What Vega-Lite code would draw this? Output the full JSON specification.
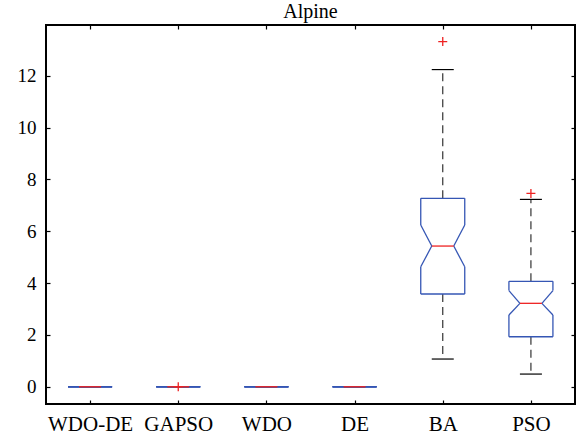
{
  "$schema": "https://vega.github.io/schema/vega-lite/v6.json",
  "width": 529,
  "height": 379,
  "autosize": "none",
  "padding": {"left": 46, "top": 25, "right": 5, "bottom": 35},
  "background": "white",
  "config": {
    "view": {"stroke": "black", "strokeWidth": 2},
    "font": "Liberation Serif, DejaVu Serif, serif",
    "axis": {"grid": false, "domain": false, "tickColor": "black", "tickWidth": 1.2, "labelColor": "black", "labelFont": "Liberation Serif, DejaVu Serif, serif", "titleFont": "Liberation Serif, DejaVu Serif, serif"}
  },
  "title": {"text": "Alpine", "fontSize": 20, "font": "Liberation Serif, DejaVu Serif, serif", "fontWeight": "normal", "color": "black", "offset": 2},
  "datasets": {
    "stats": [
      {"name": "WDO-DE", "pos": 1, "q1": 0, "q3": 0, "med": 0, "nlo": 0, "nhi": 0, "wlo": 0, "whi": 0},
      {"name": "GAPSO", "pos": 2, "q1": 0, "q3": 0, "med": 0, "nlo": 0, "nhi": 0, "wlo": 0, "whi": 0},
      {"name": "WDO", "pos": 3, "q1": 0, "q3": 0, "med": 0, "nlo": 0, "nhi": 0, "wlo": 0, "whi": 0},
      {"name": "DE", "pos": 4, "q1": 0, "q3": 0, "med": 0, "nlo": 0, "nhi": 0, "wlo": 0, "whi": 0},
      {"name": "BA", "pos": 5, "q1": 3.58, "q3": 7.27, "med": 5.43, "nlo": 4.63, "nhi": 6.24, "wlo": 1.07, "whi": 12.24},
      {"name": "PSO", "pos": 6, "q1": 1.93, "q3": 4.07, "med": 3.22, "nlo": 2.77, "nhi": 3.71, "wlo": 0.49, "whi": 7.23}
    ],
    "outliers": [
      {"name": "GAPSO", "pos": 2, "value": 0.0},
      {"name": "BA", "pos": 5, "value": 13.32},
      {"name": "PSO", "pos": 6, "value": 7.46}
    ]
  },
  "data": {"name": "stats"},
  "resolve": {"axis": {"x": "independent", "y": "independent"}},
  "layer": [
    {
      "mark": {"type": "rule", "color": "#333333", "strokeWidth": 1.2, "strokeDash": [8, 5]},
      "encoding": {
        "x": {"field": "pos", "type": "quantitative", "scale": {"domain": [0.5, 6.5], "nice": false, "zero": false},
              "axis": {"orient": "bottom", "title": null, "values": [1, 2, 3, 4, 5, 6], "tickSize": -4, "labelPadding": 13, "labelFontSize": 21, "labelExpr": "['', 'WDO-DE', 'GAPSO', 'WDO', 'DE', 'BA', 'PSO'][datum.value]"}},
        "y": {"field": "q3", "type": "quantitative", "scale": {"domain": [-0.665, 13.96], "nice": false, "zero": false},
              "axis": {"orient": "left", "title": null, "values": [0, 2, 4, 6, 8, 10, 12], "tickSize": -4, "labelPadding": 14, "labelFontSize": 19}},
        "y2": {"field": "whi"}
      }
    },
    {
      "mark": {"type": "rule", "color": "#333333", "strokeWidth": 1.2, "strokeDash": [8, 5]},
      "encoding": {
        "x": {"field": "pos", "type": "quantitative", "axis": {"orient": "top", "title": null, "values": [1, 2, 3, 4, 5, 6], "tickSize": -4, "labels": false}},
        "y": {"field": "q1", "type": "quantitative", "axis": {"orient": "right", "title": null, "values": [0, 2, 4, 6, 8, 10, 12], "tickSize": -4, "labels": false}},
        "y2": {"field": "wlo"}
      }
    },
    {
      "mark": {"type": "rule", "color": "black", "strokeWidth": 1.2, "xOffset": -11, "x2Offset": 11},
      "encoding": {"x": {"field": "pos", "type": "quantitative", "axis": null}, "x2": {"field": "pos"}, "y": {"field": "whi", "type": "quantitative", "axis": null}, "y2": {"field": "whi"}}
    },
    {
      "mark": {"type": "rule", "color": "black", "strokeWidth": 1.2, "xOffset": -11, "x2Offset": 11},
      "encoding": {"x": {"field": "pos", "type": "quantitative", "axis": null}, "x2": {"field": "pos"}, "y": {"field": "wlo", "type": "quantitative", "axis": null}, "y2": {"field": "wlo"}}
    },
    {
      "mark": {"type": "rule", "color": "#3556b4", "strokeWidth": 1.3, "xOffset": -22, "x2Offset": 22},
      "encoding": {"x": {"field": "pos", "type": "quantitative", "axis": null}, "x2": {"field": "pos"}, "y": {"field": "q1", "type": "quantitative", "axis": null}, "y2": {"field": "q1"}}
    },
    {
      "mark": {"type": "rule", "color": "#3556b4", "strokeWidth": 1.3, "xOffset": -22, "x2Offset": 22},
      "encoding": {"x": {"field": "pos", "type": "quantitative", "axis": null}, "x2": {"field": "pos"}, "y": {"field": "q3", "type": "quantitative", "axis": null}, "y2": {"field": "q3"}}
    },
    {
      "mark": {"type": "rule", "color": "#3556b4", "strokeWidth": 1.3, "xOffset": 22, "x2Offset": 22},
      "encoding": {"x": {"field": "pos", "type": "quantitative", "axis": null}, "x2": {"field": "pos"}, "y": {"field": "q1", "type": "quantitative", "axis": null}, "y2": {"field": "nlo"}}
    },
    {
      "mark": {"type": "rule", "color": "#3556b4", "strokeWidth": 1.3, "xOffset": 22, "x2Offset": 11},
      "encoding": {"x": {"field": "pos", "type": "quantitative", "axis": null}, "x2": {"field": "pos"}, "y": {"field": "nlo", "type": "quantitative", "axis": null}, "y2": {"field": "med"}}
    },
    {
      "mark": {"type": "rule", "color": "#3556b4", "strokeWidth": 1.3, "xOffset": 11, "x2Offset": 22},
      "encoding": {"x": {"field": "pos", "type": "quantitative", "axis": null}, "x2": {"field": "pos"}, "y": {"field": "med", "type": "quantitative", "axis": null}, "y2": {"field": "nhi"}}
    },
    {
      "mark": {"type": "rule", "color": "#3556b4", "strokeWidth": 1.3, "xOffset": 22, "x2Offset": 22},
      "encoding": {"x": {"field": "pos", "type": "quantitative", "axis": null}, "x2": {"field": "pos"}, "y": {"field": "nhi", "type": "quantitative", "axis": null}, "y2": {"field": "q3"}}
    },
    {
      "mark": {"type": "rule", "color": "#3556b4", "strokeWidth": 1.3, "xOffset": -22, "x2Offset": -22},
      "encoding": {"x": {"field": "pos", "type": "quantitative", "axis": null}, "x2": {"field": "pos"}, "y": {"field": "q1", "type": "quantitative", "axis": null}, "y2": {"field": "nlo"}}
    },
    {
      "mark": {"type": "rule", "color": "#3556b4", "strokeWidth": 1.3, "xOffset": -22, "x2Offset": -11},
      "encoding": {"x": {"field": "pos", "type": "quantitative", "axis": null}, "x2": {"field": "pos"}, "y": {"field": "nlo", "type": "quantitative", "axis": null}, "y2": {"field": "med"}}
    },
    {
      "mark": {"type": "rule", "color": "#3556b4", "strokeWidth": 1.3, "xOffset": -11, "x2Offset": -22},
      "encoding": {"x": {"field": "pos", "type": "quantitative", "axis": null}, "x2": {"field": "pos"}, "y": {"field": "med", "type": "quantitative", "axis": null}, "y2": {"field": "nhi"}}
    },
    {
      "mark": {"type": "rule", "color": "#3556b4", "strokeWidth": 1.3, "xOffset": -22, "x2Offset": -22},
      "encoding": {"x": {"field": "pos", "type": "quantitative", "axis": null}, "x2": {"field": "pos"}, "y": {"field": "nhi", "type": "quantitative", "axis": null}, "y2": {"field": "q3"}}
    },
    {
      "mark": {"type": "rule", "color": "#ee2222", "strokeWidth": 1.3, "xOffset": -11, "x2Offset": 11},
      "encoding": {"x": {"field": "pos", "type": "quantitative", "axis": null}, "x2": {"field": "pos"}, "y": {"field": "med", "type": "quantitative", "axis": null}, "y2": {"field": "med"}}
    },
    {
      "data": {"name": "outliers"},
      "mark": {"type": "point", "shape": "M-1,0L1,0M0,-1L0,1", "filled": false, "stroke": "#ee2222", "strokeWidth": 1.3, "size": 81, "opacity": 1},
      "encoding": {"x": {"field": "pos", "type": "quantitative", "axis": null}, "y": {"field": "value", "type": "quantitative", "axis": null}}
    }
  ]
}
